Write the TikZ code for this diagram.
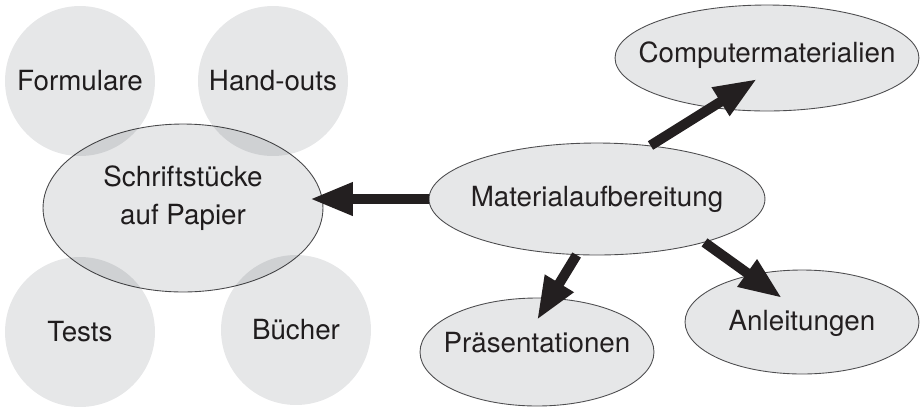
\documentclass[tikz,border=0pt]{standalone}
\usepackage{fontspec}
\setmainfont{TeX Gyre Heros}
\usepackage{xcolor}
\usetikzlibrary{arrows.meta, shapes.geometric}

\definecolor{pale}{HTML}{E6E7E8}
\definecolor{ink}{HTML}{231F20}
\definecolor{rim}{HTML}{4D4D4F}

\begin{document}
\begin{tikzpicture}[
  x=0.02cm, y=-0.02cm,
  every node/.style={font=\fontsize{15.8}{22}\selectfont, text=ink, inner sep=0pt},
  every label/.style={align=center},
  bubble/.style={circle,fill=pale,minimum size=3cm},
  topic/.style={ellipse,draw=rim,line width=0.5pt,fill=pale},
  fat/.style={ink,line width=0.2cm,-{Triangle[length=0.86cm,width=0.62cm]}}
]
\useasboundingbox (0,0) rectangle (920,407);

% Schriftstuecke und ihre Arten
\begin{scope}[blend mode=multiply]
\node[bubble] (form) at (80,81) {Formulare};
\node[bubble] (hand) at (273,81) {Hand-outs};
\node[bubble] (test) at (80,332) {Tests};
\node[bubble] (buch) at (296,330) {Bücher};
\node[topic,minimum width=5.6cm,minimum height=3.36cm,
  label={[yshift=0.2cm]center:Schriftstücke\\auf Papier}] (schrift) at (183,208) {};
\end{scope}

% Materialaufbereitung
\node[topic,minimum width=6.72cm,minimum height=2.24cm,
  label=center:Materialaufbereitung] (mat) at (597,199) {};
\node[topic,minimum width=6.08cm,minimum height=2.12cm,
  label={[yshift=0.06cm]center:Computermaterialien}] (comp) at (767,58) {};
\node[topic,minimum width=4.68cm,minimum height=2.16cm,
  label={[yshift=0.18cm]center:Präsentationen}] (praes) at (537,352) {};
\node[topic,minimum width=4.68cm,minimum height=2.08cm,
  label={[yshift=-0.02cm]center:Anleitungen}] (anl) at (802,322) {};

\coordinate (tipschrift) at (310,199);
\coordinate (tipcomp) at (757,79);
\coordinate (tippraes) at (537,320);
\coordinate (tipanl) at (782,298);

\draw[fat] (mat.west) -- (tipschrift);
\draw[fat] (mat.45) -- (tipcomp);
\draw[fat] (mat.250) -- (tippraes);
\draw[fat] (mat.338) -- (tipanl);

\end{tikzpicture}
\end{document}
